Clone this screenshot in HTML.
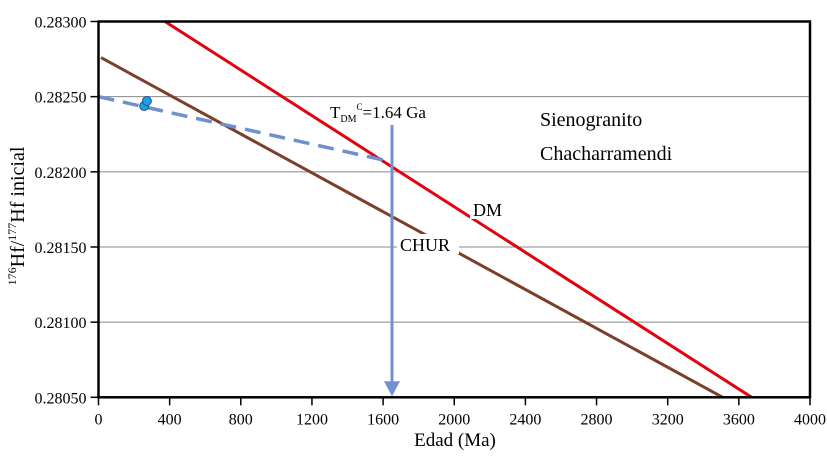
<!DOCTYPE html>
<html><head><meta charset="utf-8"><style>
body{margin:0;background:#fff;}
svg text{font-family:"Liberation Serif",serif;}
</style></head><body>
<svg width="827" height="452" xmlns="http://www.w3.org/2000/svg">
<g id="grid"></g>
<g id="marks"></g>
<g id="axes"></g>
<text x="540" y="126" font-size="20">Sienogranito</text>
<text x="540" y="160" font-size="20">Chacharramendi</text>
<text x="330" y="118" font-size="17">T<tspan font-size="10" dy="4">DM</tspan><tspan font-size="9" dy="-12">C</tspan><tspan dy="8">=1.64 Ga</tspan></text>
<rect x="470" y="199" width="38" height="20" fill="#fff"/>
<text x="473" y="216" font-size="18">DM</text>
<rect x="397" y="234" width="62" height="20" fill="#fff"/>
<text x="400" y="251" font-size="18">CHUR</text>
<text x="455" y="446" font-size="19" text-anchor="middle">Edad (Ma)</text>
<text transform="translate(24,216) rotate(-90)" font-size="20" text-anchor="middle"><tspan font-size="12" dy="-8">176</tspan><tspan dy="8">Hf/</tspan><tspan font-size="12" dy="-8">177</tspan><tspan dy="8">Hf inicial</tspan></text>
</svg>
<script>
const xTicks=[0,400,800,1200,1600,2000,2400,2800,3200,3600,4000];
const yTicks=[0.2805,0.2810,0.2815,0.2820,0.2825,0.2830];
const dmAges=[374,3672];
const dmValues=[0.28300,0.28050];
const churAges=[14,3509];
const churValues=[0.28276,0.28050];
const trendAges=[0,1650];
const trendValues=[0.28250,0.282066];
const sampleAges=[257,272];
const sampleValues=[0.282438,0.282471];
const tdmAge=1650;

const X0=98.5,X1=810,Y0=397.3,Y1=21.5;
const sx=a=>X0+(a-0)/4000*(X1-X0);
const sy=v=>Y0-(v-0.2805)/0.0025*(Y0-Y1);
const NS="http://www.w3.org/2000/svg";
function mk(parent,tag,attrs){const e=document.createElementNS(NS,tag);for(const k in attrs)e.setAttribute(k,attrs[k]);parent.appendChild(e);return e;}
const grid=document.getElementById('grid'),marks=document.getElementById('marks'),axes=document.getElementById('axes');
yTicks.forEach(v=>{
  const l=mk(grid,'line',{x1:X0,x2:X1,y1:sy(v),y2:sy(v),stroke:'#888','stroke-width':1});
  
  
  const t=mk(axes,'line',{x1:X0-8,x2:X0,y1:sy(v),y2:sy(v),stroke:'#000','stroke-width':1.5});
  
  
  const tx=mk(axes,'text',{x:X0-12,y:sy(v)+6,'font-size':16,'text-anchor':'end'});
  tx.textContent=v.toFixed(5);
  
  
});
xTicks.forEach(a=>{
  const t=mk(axes,'line',{x1:sx(a),x2:sx(a),y1:Y0,y2:Y0+8,stroke:'#000','stroke-width':1.5});
  
  
  const tx=mk(axes,'text',{x:sx(a),y:Y0+27,'font-size':16,'text-anchor':'middle'});
  tx.textContent=a;
  
  
});
const frame=mk(axes,'rect',{x:X0,y:Y1,width:X1-X0,height:Y0-Y1,fill:'none',stroke:'#000','stroke-width':2.5});


function line(ag,vs,col,w,dash,name){
  const e=mk(marks,'line',{x1:sx(ag[0]),y1:sy(vs[0]),x2:sx(ag[1]),y2:sy(vs[1]),stroke:col,'stroke-width':w});
  if(dash)e.setAttribute('stroke-dasharray',dash);
  
  
}
line(churAges,churValues,'#7b3f2a',3,null,'chur-line');
line(dmAges,dmValues,'#e3000f',3,null,'dm-line');
line(trendAges,trendValues,'#6f8fd0',3.5,'16,9','sample-trend-line');
const ax=sx(tdmAge);
const ar=mk(marks,'line',{x1:ax,x2:ax,y1:125,y2:Y0-14,stroke:'#7390d0','stroke-width':3});


const ah=mk(marks,'polygon',{points:`${ax-8},${Y0-16} ${ax+8},${Y0-16} ${ax},${Y0-1}`,fill:'#7390d0'});


sampleAges.forEach((a,i)=>{
  const c=mk(marks,'circle',{cx:sx(a),cy:sy(sampleValues[i]),r:4.5,fill:'#1aa3e0',stroke:'#1f4f9a','stroke-width':1});
  
  
});
</script>
</body></html>
